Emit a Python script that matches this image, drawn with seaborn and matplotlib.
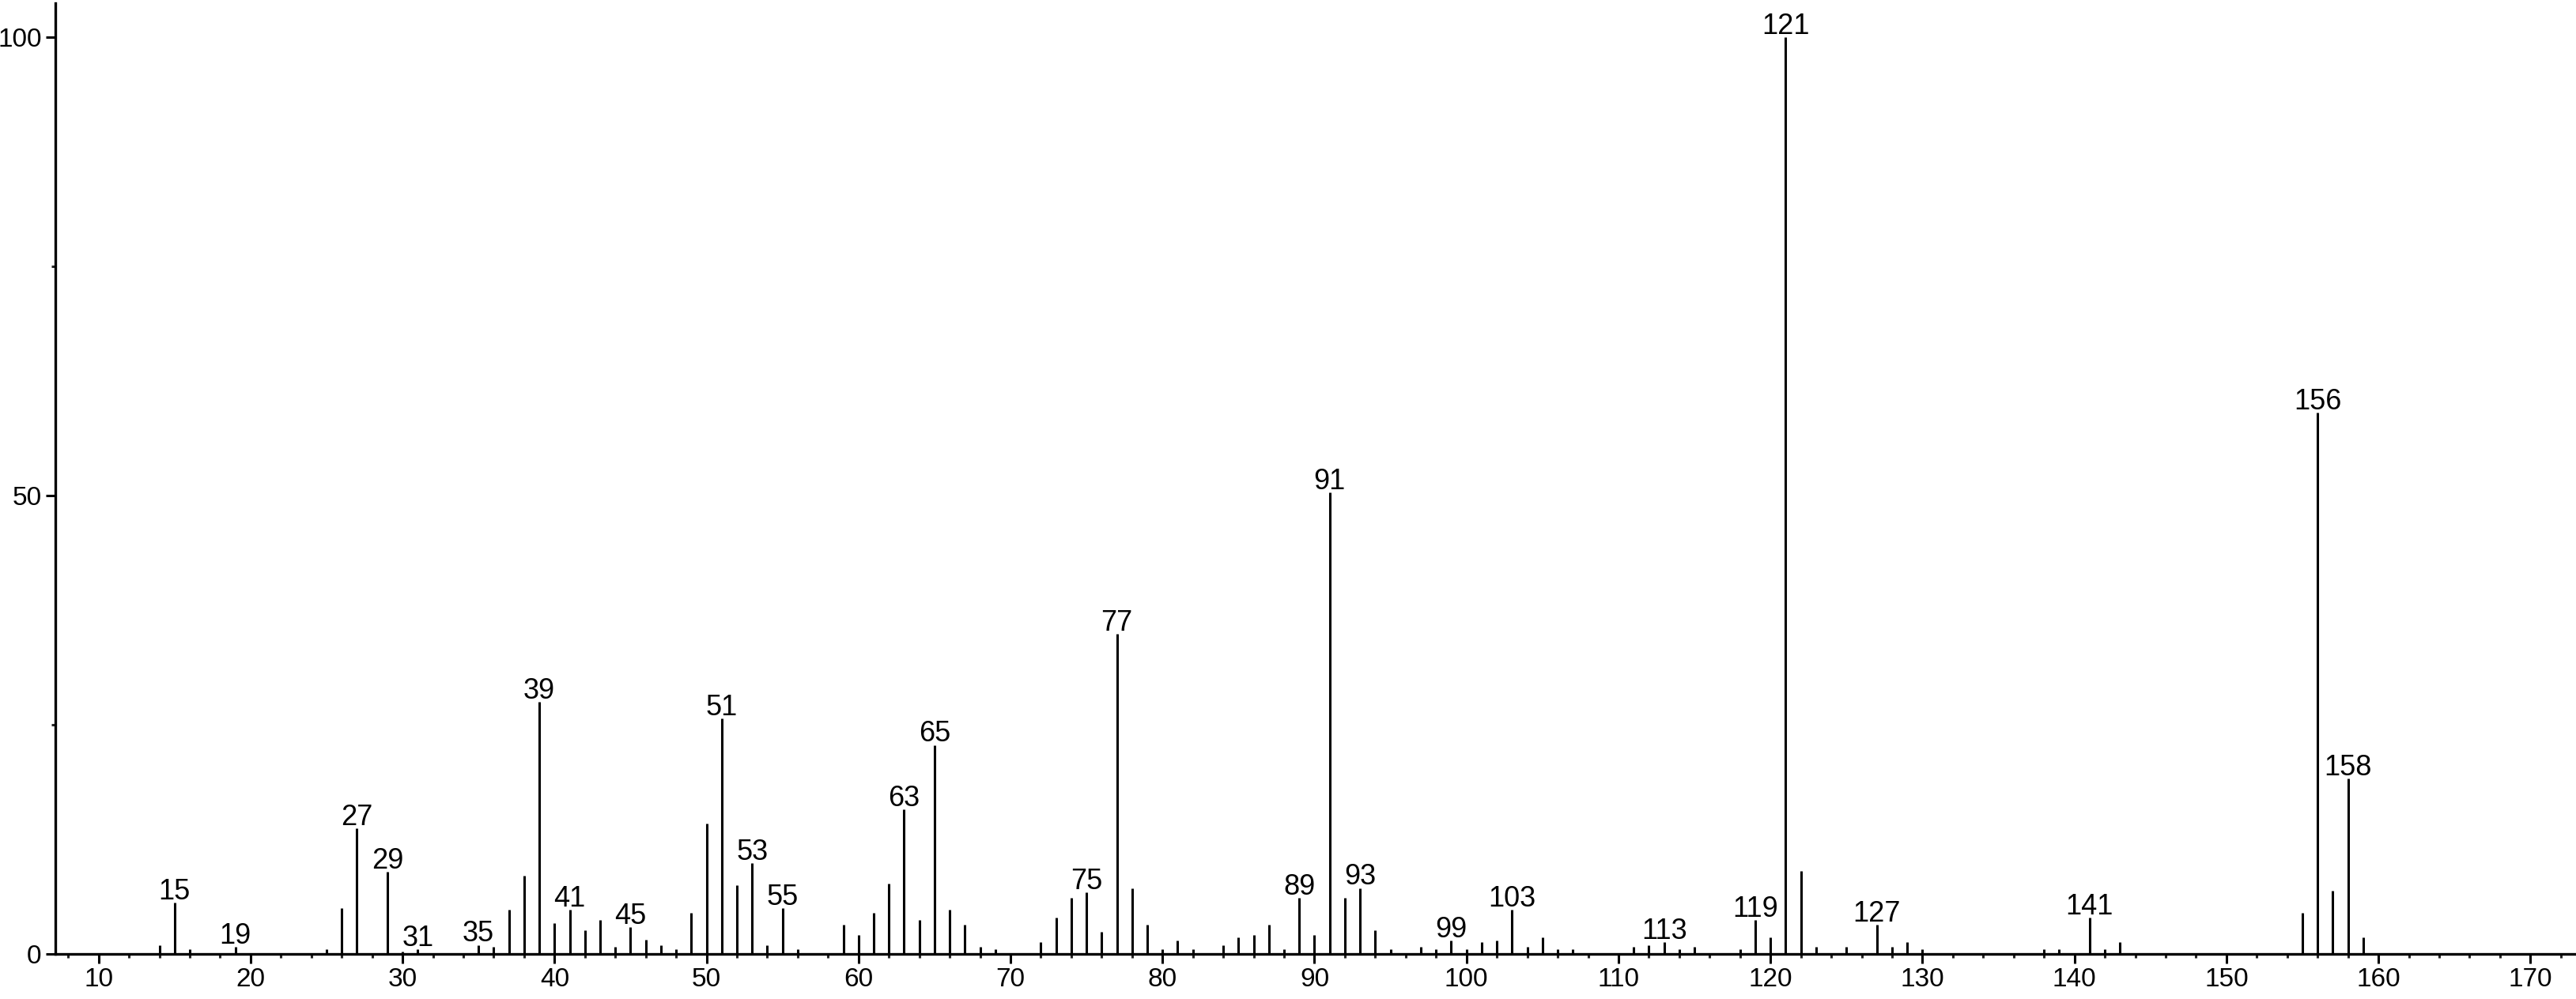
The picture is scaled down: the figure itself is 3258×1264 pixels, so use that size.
import numpy as np
import pandas as pd
import seaborn as sns
import matplotlib
matplotlib.use("Agg")
import matplotlib.pyplot as plt
from matplotlib.ticker import MultipleLocator

# m/z and relative intensity
mz = [14, 15, 16, 19, 25, 26, 27, 29, 30, 31, 35, 36, 37, 38, 39, 40, 41, 42, 43, 44,
      45, 46, 47, 48, 49, 50, 51, 52, 53, 54, 55, 56, 59, 60, 61, 62, 63, 64, 65, 66,
      67, 68, 69, 72, 73, 74, 75, 76, 77, 78, 79, 80, 81, 82, 84, 85, 86, 87, 88, 89,
      90, 91, 92, 93, 94, 95, 97, 98, 99, 100, 101, 102, 103, 104, 105, 106, 107, 111, 112, 113,
      114, 115, 118, 119, 120, 121, 122, 123, 125, 127, 128, 129, 130, 138, 139, 141, 142, 143, 155, 156,
      157, 158, 159]
intensity = [1.0, 5.6, 0.5, 0.8, 0.5, 5.0, 13.7, 9.0, 0.3, 0.5, 1.0, 0.75, 4.8, 8.5, 27.5, 3.4, 4.8, 2.6, 3.7, 0.8,
             2.9, 1.6, 1.0, 0.5, 4.5, 14.2, 25.7, 7.5, 9.9, 1.0, 5.0, 0.5, 3.2, 2.1, 4.5, 7.7, 15.8, 3.7, 22.8, 4.8,
             3.2, 0.8, 0.5, 1.3, 4.0, 6.1, 6.7, 2.4, 34.9, 7.2, 3.2, 0.5, 1.5, 0.5, 1.0, 1.8, 2.1, 3.2, 0.5, 6.1,
             2.1, 50.3, 6.1, 7.2, 2.6, 0.5, 0.75, 0.5, 1.5, 0.5, 1.3, 1.5, 4.8, 0.75, 1.8, 0.5, 0.5, 0.75, 1.0, 1.3,
             0.5, 0.75, 0.5, 3.7, 1.8, 100.0, 9.1, 0.75, 0.75, 3.2, 0.75, 1.3, 0.5, 0.5, 0.5, 4.0, 0.5, 1.3, 4.5, 59.0,
             6.9, 19.1, 1.8]
labelled = [15, 19, 27, 29, 31, 35, 39, 41, 45, 51, 53, 55, 63, 65, 75, 77, 89, 91, 93, 99,
            103, 113, 119, 121, 127, 141, 156, 158]

df = pd.DataFrame({"mz": mz, "intensity": intensity})

sns.set_theme(style="ticks")
plt.rcParams["font.family"] = ["Liberation Sans", "DejaVu Sans"]

fig = plt.figure(figsize=(32.58, 12.64), dpi=100)
ax = fig.add_axes([0.0215, 0.045, 0.9785, 0.952])

ax.vlines(df["mz"], 0, df["intensity"], color="black", linewidth=2.2)

for m in labelled:
    h = df.loc[df["mz"] == m, "intensity"].iloc[0]
    ax.annotate(str(m), (m, h), xytext=(0, 3), textcoords="offset points",
                ha="center", va="baseline", fontsize=26, color="black")

ax.xaxis.set_major_locator(MultipleLocator(10))
ax.xaxis.set_minor_locator(MultipleLocator(2))
ax.set_yticks([0, 50, 100])
ax.set_yticks([25, 75], minor=True)
ax.tick_params(axis="both", which="major", direction="out", length=8.5, width=2.2,
               labelsize=24, colors="black", pad=4)
ax.tick_params(axis="both", which="minor", direction="out", length=3.6, width=2.2)
ax.set_xlim(7.16, 173.0)
ax.set_ylim(0, 103.7)

sns.despine(ax=ax)
for s in ["left", "bottom"]:
    ax.spines[s].set_linewidth(2.4)
    ax.spines[s].set_color("black")
ax.set_xlabel("")
ax.set_ylabel("")

fig.savefig("out.png", dpi=100, facecolor="white")
